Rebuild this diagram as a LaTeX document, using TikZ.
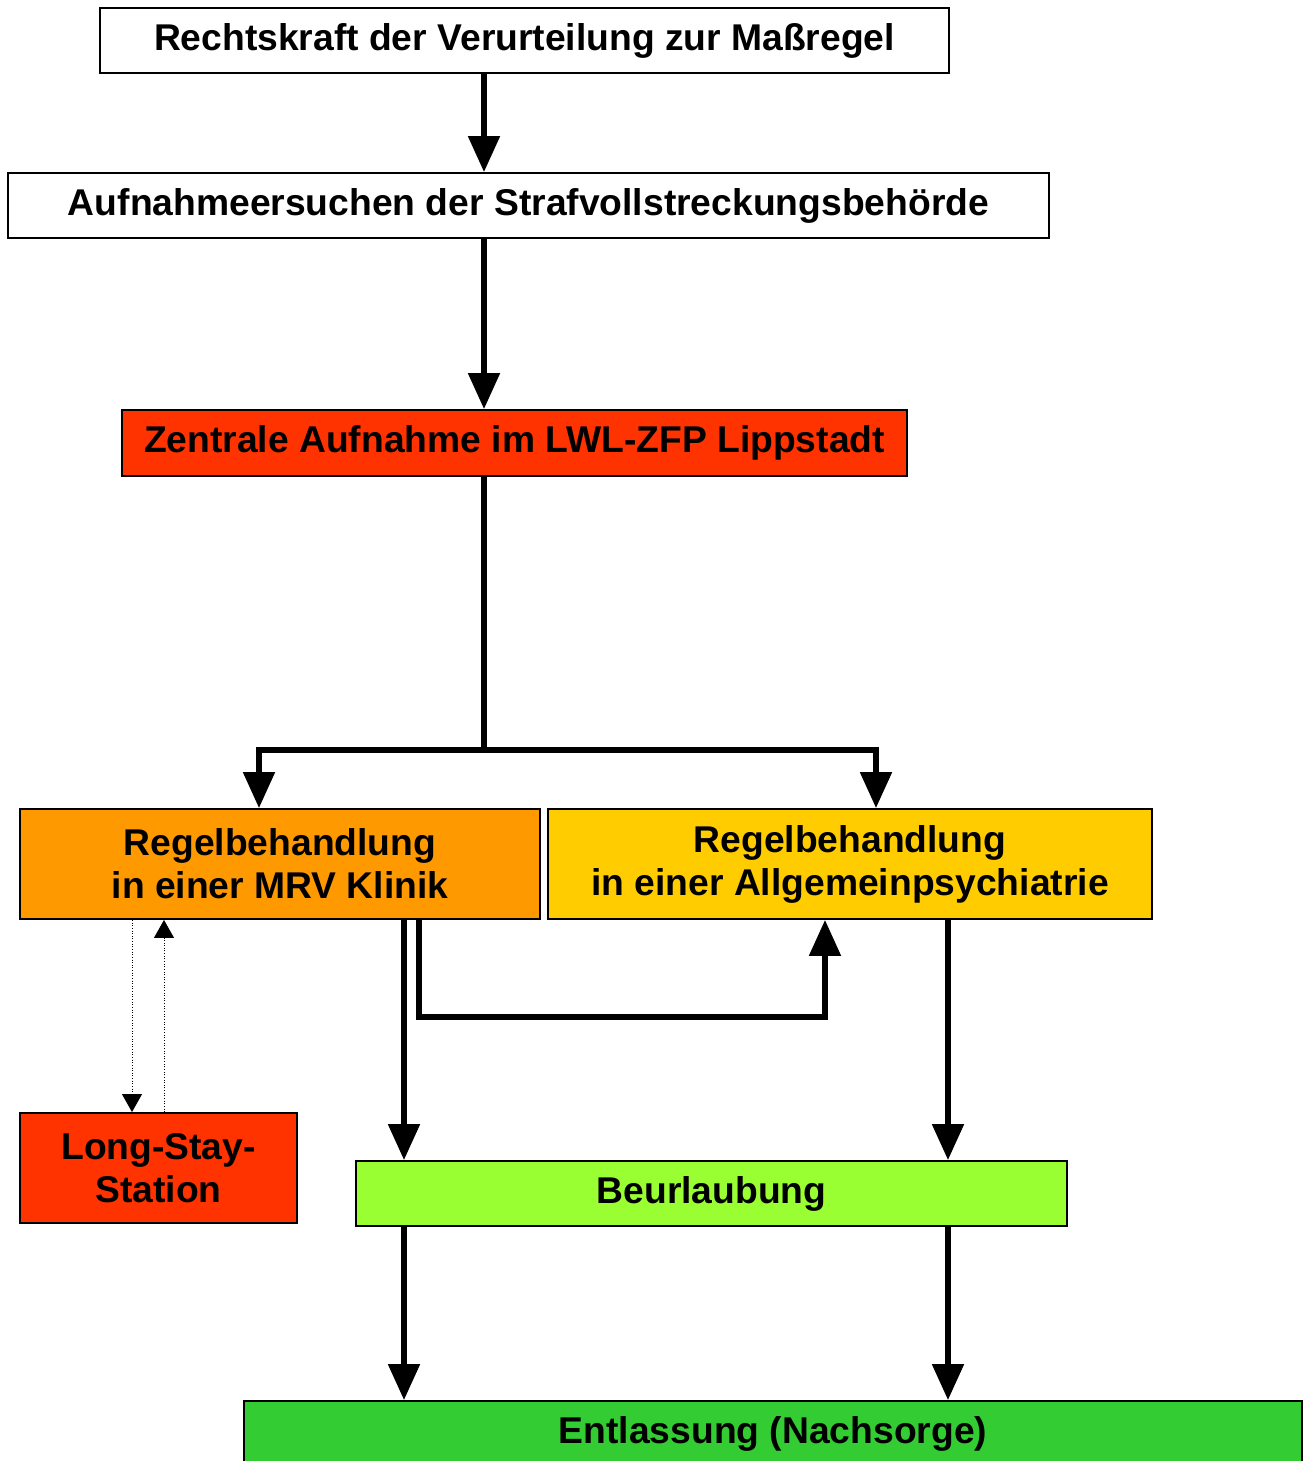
\documentclass[tikz,border=0pt]{standalone}
\usepackage{fontspec}
\setmainfont{Liberation Sans}
\usepackage{xcolor}
\usetikzlibrary{arrows.meta}

\definecolor{redorange}{HTML}{FF3300}
\definecolor{mrvorange}{HTML}{FF9900}
\definecolor{allgyellow}{HTML}{FFCC00}
\definecolor{beugreen}{HTML}{99FF33}
\definecolor{entgreen}{HTML}{33CC33}

\begin{document}
\begin{tikzpicture}[x=0.02cm, y=-0.02cm,
    box/.style={draw, line width=1.1pt, align=center, inner sep=0pt,
        font=\fontsize{21.2}{24.5}\selectfont\bfseries},
    flow/.style={line width=3pt, -{Triangle[width=0.62cm,length=0.72cm]}},
    thinflow/.style={densely dotted, line width=0.5pt, -{Triangle[width=0.4cm,length=0.36cm]}}]
    \useasboundingbox (0,0) rectangle (1309,1461);

    \node[box, minimum width=16.98cm, minimum height=1.3cm] (rk) at (524.5,40.5) {Rechtskraft der Verurteilung zur Maßregel};
    \node[box, minimum width=20.82cm, minimum height=1.3cm] (auf) at (528.5,205.5) {Aufnahmeersuchen der Strafvollstreckungsbehörde};
    \node[box, fill=redorange, minimum width=15.7cm, minimum height=1.32cm] (zen) at (514.5,443) {Zentrale Aufnahme im LWL-ZFP Lippstadt};
    \node[box, fill=mrvorange, minimum width=10.4cm, minimum height=2.2cm] (mrv) at (280,864) {Regelbehandlung\\in einer MRV Klinik};
    \node[box, fill=allgyellow, minimum width=12.08cm, minimum height=2.2cm] (allg) at (850,864) {Regelbehandlung\\in einer Allgemeinpsychiatrie};
    \node[box, fill=redorange, minimum width=5.54cm, minimum height=2.2cm] (ls) at (158.5,1168) {Long-Stay-\\Station};
    \node[box, fill=beugreen, minimum width=14.22cm, minimum height=1.3cm] (beu) at (711.5,1193.5) {Beurlaubung};
    \node[box, fill=entgreen, minimum width=21.16cm, minimum height=1.32cm] (ent) at (773,1434) {Entlassung (Nachsorge)};

    \coordinate (spine) at (484,750);
    \coordinate (left) at (259,750);
    \coordinate (right) at (876,750);
    \coordinate (mrvout) at (404,0);
    \coordinate (allgout) at (948,0);
    \coordinate (turn) at (419,1017);
    \coordinate (back) at (825,1017);
    \coordinate (lsdown) at (132,0);
    \coordinate (lsup) at (164,0);

    \draw[flow] (rk.south -| spine) -- (auf.north -| spine);
    \draw[flow] (auf.south -| spine) -- (zen.north -| spine);
    \draw[line width=3pt] (zen.south -| spine) -- (spine);
    \draw[flow] (spine) -- (left) -- (mrv.north -| left);
    \draw[flow] (spine) -- (right) -- (allg.north -| right);
    \draw[flow] (mrv.south -| mrvout) -- (beu.north -| mrvout);
    \draw[flow] (mrv.south -| turn) -- (turn) -- (back) -- (allg.south -| back);
    \draw[flow] (allg.south -| allgout) -- (beu.north -| allgout);
    \draw[flow] (beu.south -| mrvout) -- (ent.north -| mrvout);
    \draw[flow] (beu.south -| allgout) -- (ent.north -| allgout);
    \draw[thinflow] (mrv.south -| lsdown) -- (ls.north -| lsdown);
    \draw[thinflow] (ls.north -| lsup) -- (mrv.south -| lsup);
\end{tikzpicture}
\end{document}
